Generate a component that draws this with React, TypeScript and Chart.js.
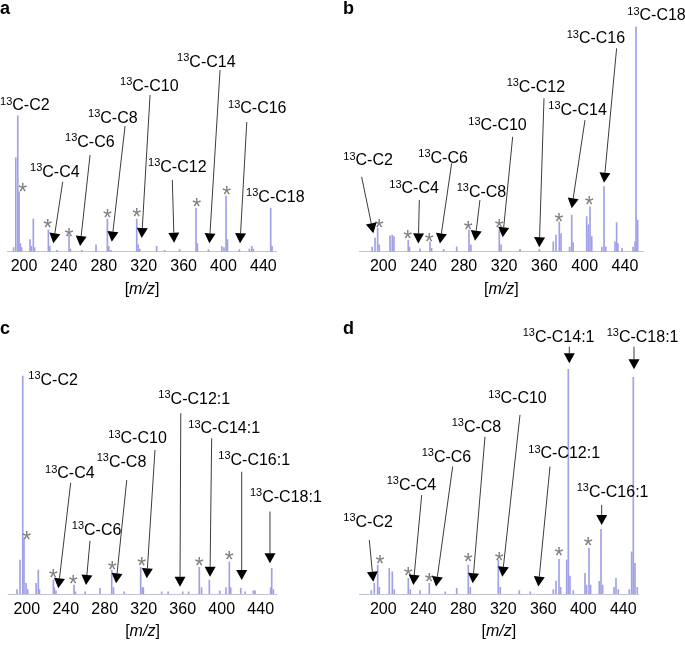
import React, { useEffect, useRef } from "react";
import { Chart, registerables } from "chart.js";

Chart.register(...registerables);

const FONT = '"Liberation Sans", Arial, Helvetica, sans-serif';
const TICKS = [200, 240, 280, 320, 360, 400, 440];

// ---------- Panel a ----------
const A_MZ = [189.5, 191.7, 193.7, 195.0, 196.3, 197.5, 206.0, 207.3, 209.3, 210.5, 224.4, 225.8, 233.0, 245.1, 246.5, 258.0, 272.2, 283.6, 285.0, 287.0, 313.0, 314.5, 316.0, 333.0, 341.0, 356.0, 372.5, 373.8, 385.0, 398.3, 400.5, 402.6, 404.0, 416.0, 426.0, 428.4, 430.0, 447.4, 448.7];
const A_INT = [3, 69, 100, 44, 6, 3, 9, 4, 24, 3, 16, 4, 1, 12, 2, 1, 5, 24, 4, 1, 24, 5, 2, 4, 1, 1.5, 32, 6, 1.5, 4, 3, 41, 9, 1.5, 2, 4, 2, 32, 4];
const A_NAMES = ["C-C2", "C-C4", "C-C6", "C-C8", "C-C10", "C-C12", "C-C14", "C-C16", "C-C18"];
const A_LABEL_AT = [[175.9, 104], [206, 55], [241.1, 77.2], [264.2, 94.9], [296.3, 118.4], [324.4, 58.8], [353.5, 136], [404.6, 101.8], [422.7, 36.8]];
const A_ARROWS = [null, [238.8, 51.5, 229.4, 6.2], [266.2, 71.1, 256.2, 4.2], [301.3, 92.4, 288, 7.4], [326.4, 115.2, 318, 10.1], [348.7, 52.7, 350.5, 6.6], [396.6, 133.6, 385.9, 6.2], [423.4, 95.4, 416.6, 6.2], null];
const A_STARS = [[198.7, 47.8], [223.8, 20.9], [245.1, 14.7], [283.6, 28.2], [313, 29.4], [373.2, 36.8], [403.3, 45.4]];

// ---------- Panel b ----------
const B_MZ = [189, 191.8, 194.4, 196, 206.7, 208.9, 210.6, 224.8, 226, 236.4, 246.4, 248, 260, 272.9, 285.1, 287, 315.2, 317, 335.8, 355, 368.8, 371.5, 374.8, 376.5, 385, 387.1, 388.5, 402, 403.6, 405.3, 407, 417, 419.2, 420.9, 430.1, 431.7, 433, 437, 448, 450, 451, 452.6];
const B_INT = [2, 6, 10.4, 3, 7, 7.4, 6.7, 5.2, 2, 1.3, 4.4, 1.5, 1, 2.2, 9.6, 3, 9.6, 3, 1, 1, 4.4, 7.4, 13.3, 8, 2, 16.3, 4, 15.6, 11.9, 20, 6.7, 2, 28.9, 2.2, 4.4, 12.9, 3.6, 1.5, 2, 4.4, 100, 14.1];
const B_NAMES = ["C-C2", "C-C4", "C-C6", "C-C8", "C-C10", "C-C12", "C-C14", "C-C16", "C-C18"];
const B_LABEL_AT = [[160.3, 38.5], [206, 26], [234.8, 39.6], [272.9, 24.4], [284.4, 54.1], [322.5, 71.1], [363.9, 60.8], [382.1, 92.6], [442.3, 103]];
const B_ARROWS = [[178.5, 33.3, 190.1, 8.2], [235.8, 23, 234.8, 3.7], [267.9, 39.3, 256.3, 3.7], [296, 23, 291.1, 4.9], [328.5, 51.1, 318.6, 6.4], [359.6, 68.2, 354.9, 2], [400.3, 58.5, 387.1, 19.3], [431.7, 90.4, 419.2, 30.7], null];
const B_STARS = [[196, 12.9], [224.2, 7.9], [245.7, 6.4], [284.4, 11.9], [315.2, 12.9], [374.5, 15.6], [404.6, 23]];

// ---------- Panel c ----------
const C_MZ = [190, 193.1, 195.9, 197.2, 199.3, 201, 209.6, 211.9, 213, 227.3, 228.3, 230, 248.5, 250, 260, 275.2, 287.2, 289, 300, 316.9, 318.5, 319.6, 338.4, 345, 360, 366, 377, 379.3, 387.3, 398, 404.4, 407.8, 409.2, 419.5, 424, 432.5, 434.2, 450.2, 451.3, 453];
const C_INT = [2, 15.6, 100, 25.5, 4.9, 2, 4.9, 11, 2, 6.4, 3, 1.5, 4.1, 1, 1, 2.6, 11, 3, 1, 12.2, 3, 3, 1, 1, 1, 1, 12.2, 3, 6.4, 1.5, 3, 14.8, 3, 2.6, 1, 1.5, 1.5, 3, 11.8, 2];
const C_NAMES = ["C-C2", "C-C4", "C-C6", "C-C8", "C-C10", "C-C12:1", "C-C14:1", "C-C16:1", "C-C18:1"];
const C_LABEL_AT = [[201.6, 95.9], [218.8, 53.1], [246.2, 27.1], [271.8, 58.4], [283.7, 69.1], [335, 87.2], [365.7, 73.7], [396.5, 59.2], [429, 42.3]];
const C_ARROWS = [null, [245.1, 51, 232.4, 2.6], [264.9, 24.4, 260.8, 4.1], [302.6, 52.3, 291.6, 4.9], [331.6, 66.1, 323.1, 7.2], [358, 82.9, 357.2, 3.3], [389.7, 71.4, 388, 7.9], [420.5, 56.1, 420.5, 6.4], [449.5, 37.8, 449.5, 14.1]];
const C_STARS = [[200, 27.1], [227.3, 9.5], [247.8, 6.7], [287.8, 13.3], [318, 15.3], [377, 15.3], [407.8, 17.9]];

// ---------- Panel d ----------
const D_MZ = [188, 191, 194.4, 196, 206, 209, 211, 225, 227, 236.7, 246, 262, 273.4, 285, 287, 315, 317, 336, 347, 370, 372.7, 375.7, 377.3, 383.4, 385, 386.7, 390, 401.7, 403.3, 405.7, 407.3, 416, 417.7, 419.3, 430.7, 432.7, 435, 446, 448.4, 450, 451.7, 454];
const D_INT = [1.5, 4.7, 12.9, 3, 11.4, 9.9, 2, 7, 2, 1.5, 4.7, 1, 2.5, 12.9, 3, 15.1, 3, 1.5, 1, 2, 5.8, 15.4, 3, 15.1, 100, 8, 1.5, 9.2, 4, 20.3, 4, 5.6, 28.8, 4, 3, 7, 2, 2, 18.8, 96.4, 13.7, 3];
const D_NAMES = ["C-C2", "C-C4", "C-C6", "C-C8", "C-C10", "C-C12:1", "C-C14:1", "C-C16:1", "C-C18:1"];
const D_LABEL_AT = [[160, 30], [203.4, 46.3], [238.4, 58.9], [268.4, 72.2], [305, 84.9], [345, 60.4], [339.4, 112.3], [393.4, 43.3], [423.4, 112.3]];
const D_ARROWS = [[186, 24, 190, 5.5], [238.4, 44, 230, 4], [269.4, 56.7, 252.7, 3.3], [301.7, 70, 289.4, 4.8], [336.7, 79.7, 319, 7.7], [366.7, 56.7, 355, 3.3], [386, 110, 386, 102.7], [418.4, 39.6, 418.4, 30.7], [450.7, 110, 450.7, 100]];
const D_STARS = [[196.7, 15.4], [225, 10.4], [246, 7.7], [285, 16.3], [316, 16.9], [375.7, 19.3], [405, 23.7]];

type Panel = {
  letter: string;
  letterX: number;
  left: number;
  top: number;
  w: number;
  h: number;
  xMin: number;
  xMax: number;
  yMax: number;
  pad: { left: number; right: number; top: number; bottom: number };
  mz: number[];
  int: number[];
  names: string[];
  labelAt: number[][];
  arrows: (number[] | null)[];
  stars: number[][];
};

const PANELS: Panel[] = [
  { letter: "a", letterX: 0, left: 0, top: 0, w: 340, h: 310, xMin: 183.2, xMax: 453.4, yMax: 170.4,
    pad: { left: 7.3, right: 63.3, top: 20, bottom: 32.3 },
    mz: A_MZ, int: A_INT, names: A_NAMES, labelAt: A_LABEL_AT, arrows: A_ARROWS, stars: A_STARS },
  { letter: "b", letterX: 3, left: 340, top: 0, w: 345, h: 310, xMin: 176.2, xMax: 458.2, yMax: 103,
    pad: { left: 19.3, right: 41.7, top: 20, bottom: 32.3 },
    mz: B_MZ, int: B_INT, names: B_NAMES, labelAt: B_LABEL_AT, arrows: B_ARROWS, stars: B_STARS },
  { letter: "c", letterX: 0, left: 0, top: 320, w: 340, h: 325, xMin: 181.1, xMax: 456.4, yMax: 116.5,
    pad: { left: 8.3, right: 63.3, top: 20, bottom: 25 },
    mz: C_MZ, int: C_INT, names: C_NAMES, labelAt: C_LABEL_AT, arrows: C_ARROWS, stars: C_STARS },
  { letter: "d", letterX: 3, left: 340, top: 320, w: 345, h: 325, xMin: 176, xMax: 455, yMax: 113,
    pad: { left: 19.3, right: 46.7, top: 20, bottom: 25 },
    mz: D_MZ, int: D_INT, names: D_NAMES, labelAt: D_LABEL_AT, arrows: D_ARROWS, stars: D_STARS },
];

function drawArrow(ctx: CanvasRenderingContext2D, x1: number, y1: number, x2: number, y2: number) {
  const ang = Math.atan2(y2 - y1, x2 - x1);
  const L = 10;
  const W = 5.5;
  const bx = x2 - L * Math.cos(ang);
  const by = y2 - L * Math.sin(ang);
  ctx.strokeStyle = "#3c3c3c";
  ctx.lineWidth = 1;
  ctx.beginPath();
  ctx.moveTo(x1, y1);
  ctx.lineTo(bx, by);
  ctx.stroke();
  ctx.fillStyle = "#000";
  ctx.beginPath();
  ctx.moveTo(x2, y2);
  ctx.lineTo(bx + W * Math.sin(ang), by - W * Math.cos(ang));
  ctx.lineTo(bx - W * Math.sin(ang), by + W * Math.cos(ang));
  ctx.closePath();
  ctx.fill();
}

function drawLabel(ctx: CanvasRenderingContext2D, x: number, y: number, text: string) {
  ctx.fillStyle = "#000";
  ctx.textAlign = "left";
  ctx.textBaseline = "alphabetic";
  ctx.font = `11px ${FONT}`;
  ctx.fillText("13", x, y - 5.5);
  const w = ctx.measureText("13").width;
  ctx.font = `16px ${FONT}`;
  ctx.fillText(text, x + w, y);
}

function PanelChart({ p }: { p: Panel }) {
  const ref = useRef<HTMLCanvasElement>(null);
  useEffect(() => {
    const canvas = ref.current;
    if (!canvas) return;
    const plugin = {
      id: "annot_" + p.letter,
      afterDraw(chart: any) {
        const ctx: CanvasRenderingContext2D = chart.ctx;
        const xs = chart.scales.x;
        const ys = chart.scales.y;
        const X = (v: number) => xs.getPixelForValue(v);
        const Y = (v: number) => ys.getPixelForValue(v);
        ctx.save();
        // asterisks
        ctx.fillStyle = "#7f7f7f";
        ctx.font = `23px ${FONT}`;
        ctx.textAlign = "center";
        ctx.textBaseline = "alphabetic";
        p.stars.forEach(([m, v]) => ctx.fillText("*", X(m), Y(v) + 13));
        // arrows
        p.arrows.forEach((a) => {
          if (a) drawArrow(ctx, X(a[0]), Y(a[1]), X(a[2]), Y(a[3]));
        });
        // labels
        p.names.forEach((n, i) => drawLabel(ctx, X(p.labelAt[i][0]), Y(p.labelAt[i][1]), n));
        // panel letter
        ctx.fillStyle = "#000";
        ctx.textAlign = "left";
        ctx.textBaseline = "alphabetic";
        ctx.font = `bold 18px ${FONT}`;
        ctx.fillText(p.letter, p.letterX, 14);
        // axis title [m/z]
        const ca = chart.chartArea;
        const cx = (ca.left + ca.right) / 2;
        const cy = ca.bottom + 38;
        ctx.textBaseline = "middle";
        ctx.font = `16px ${FONT}`;
        const w1 = ctx.measureText("[").width;
        const w3 = ctx.measureText("]").width;
        ctx.font = `italic 16px ${FONT}`;
        const w2 = ctx.measureText("m/z").width;
        let sx = cx - (w1 + w2 + w3) / 2;
        ctx.font = `16px ${FONT}`;
        ctx.fillText("[", sx, cy);
        sx += w1;
        ctx.font = `italic 16px ${FONT}`;
        ctx.fillText("m/z", sx, cy);
        sx += w2;
        ctx.font = `16px ${FONT}`;
        ctx.fillText("]", sx, cy);
        ctx.restore();
      },
    };
    const chart = new Chart(canvas, {
      type: "bar",
      data: {
        datasets: [
          {
            data: p.mz.map((x, i) => ({ x, y: p.int[i] })),
            backgroundColor: "rgb(160,160,230)",
            borderWidth: 0,
            barThickness: 1,
            grouped: false,
          } as any,
        ],
      },
      options: {
        responsive: false,
        animation: false,
        events: [],
        layout: { padding: p.pad },
        plugins: { legend: { display: false }, tooltip: { enabled: false } },
        scales: {
          x: {
            type: "linear",
            min: p.xMin,
            max: p.xMax,
            offset: false,
            afterBuildTicks: (s: any) => {
              s.ticks = TICKS.map((v) => ({ value: v }));
            },
            afterFit: (s: any) => {
              s.height = 26;
            },
            ticks: {
              autoSkip: false,
              maxRotation: 0,
              padding: 5.5,
              color: "#000",
              font: { family: FONT, size: 16 },
              callback: (v: any) => String(v),
            },
            grid: { display: true, color: "rgba(0,0,0,0)", drawTicks: false },
            border: { display: true, color: "#c4c4d8", width: 1 },
          },
          y: { display: false, min: 0, max: p.yMax },
        },
      } as any,
      plugins: [plugin],
    });
    return () => chart.destroy();
  }, [p]);
  return (
    <div style={{ position: "absolute", left: p.left, top: p.top, width: p.w, height: p.h }}>
      <canvas ref={ref} width={p.w} height={p.h} style={{ display: "block", width: p.w, height: p.h }} />
    </div>
  );
}

export default function App() {
  return (
    <div style={{ position: "absolute", left: 0, top: 0, width: 685, height: 645, background: "#fff", overflow: "hidden" }}>
      {PANELS.map((p) => (
        <PanelChart key={p.letter} p={p} />
      ))}
    </div>
  );
}
